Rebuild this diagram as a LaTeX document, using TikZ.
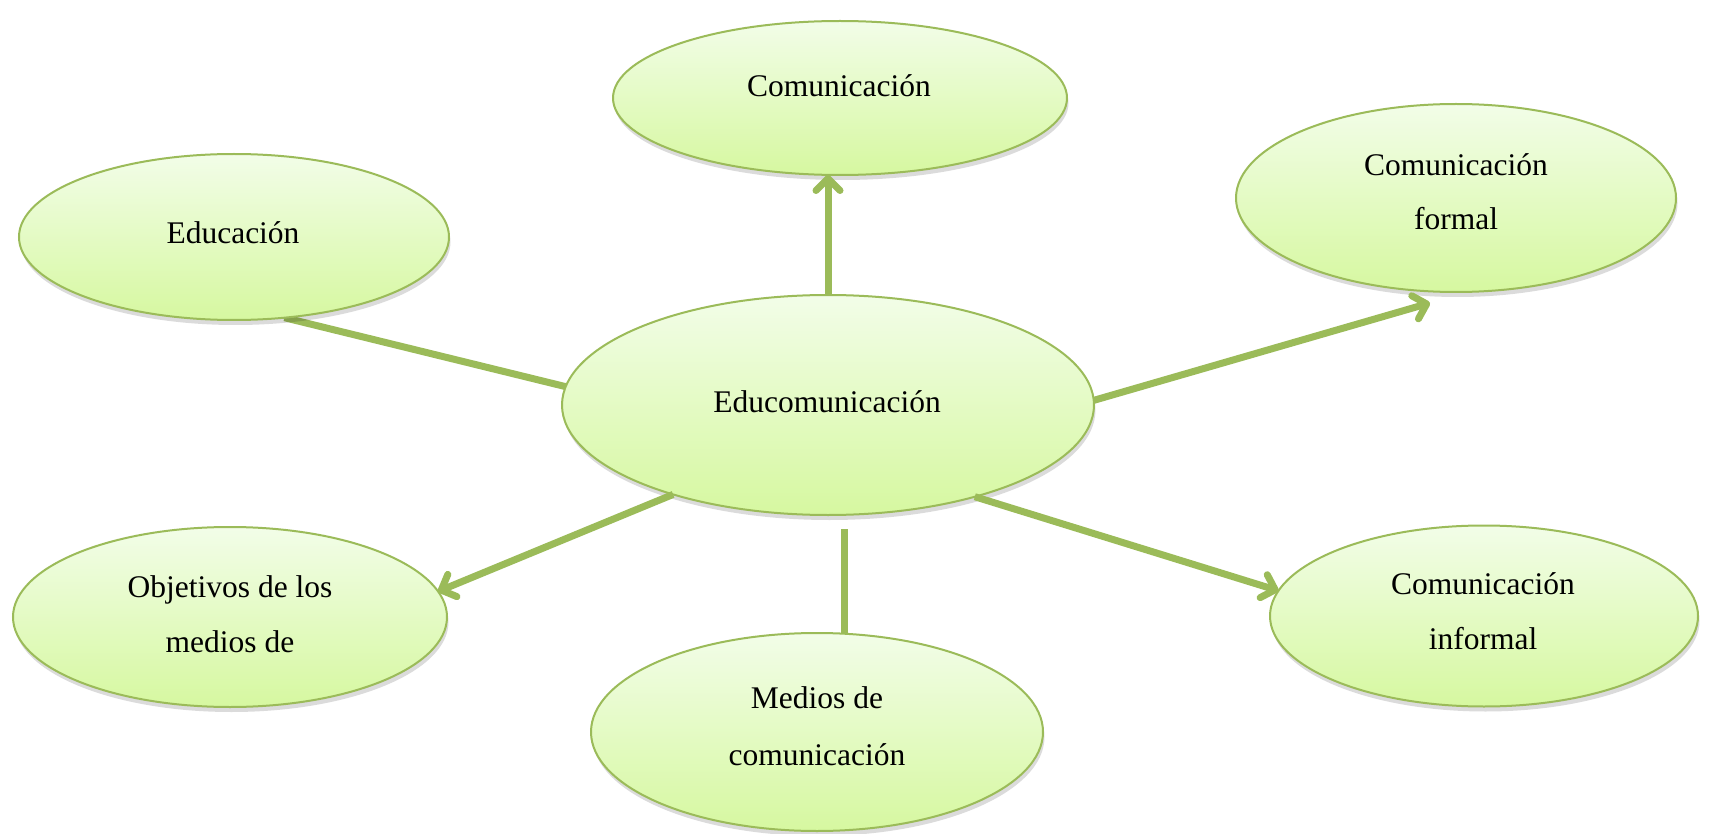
\documentclass[tikz,border=0pt]{standalone}
\usepackage{fontspec}
\setmainfont{Liberation Serif}
\usetikzlibrary{arrows.meta,shapes.geometric,shadows,backgrounds}
\definecolor{olive}{HTML}{9BBB59}
\definecolor{topfill}{RGB}{242,253,232}
\definecolor{botfill}{RGB}{214,248,160}
\tikzset{
  bubble/.style={ellipse, draw=olive, line width=2pt, inner sep=0pt, outer sep=0pt,
    top color=topfill, bottom color=botfill,
    drop shadow={shadow xshift=1.5pt, shadow yshift=-5pt, fill=black, opacity=0.14}},
  lbl/.style={anchor=base, inner sep=0pt, font=\fontsize{31.5}{38}\selectfont},
  conn/.style={draw=olive, line width=7pt},
  arr/.style={conn, -{Straight Barb[length=12pt, width=24pt, round]}}
}
\begin{document}
\begin{tikzpicture}[x=1pt, y=-1pt]
\useasboundingbox (0,0) rectangle (1711,834);
% bubbles
\node[bubble, minimum width=454pt, minimum height=154pt] (com) at (840,98) {};
\node[bubble, minimum width=430pt, minimum height=166pt] (educ) at (234,237) {};
\node[bubble, minimum width=440pt, minimum height=188pt] (formal) at (1456,198) {};
\node[bubble, minimum width=532pt, minimum height=220pt] (edu) at (828,405) {};
\node[bubble, minimum width=434pt, minimum height=180pt] (obj) at (230,617) {};
\node[bubble, minimum width=452pt, minimum height=198pt] (med) at (817,732) {};
\node[bubble, minimum width=428pt, minimum height=181pt] (inf) at (1484,616) {};
% texts
\node[lbl] (tcom) at (839,97) {Comunicación};
\node[lbl] (teduc) at (233,244) {Educación};
\node[lbl] (tformal1) at (1456,176) {Comunicación};
\node[lbl] (tformal2) at (1456,230) {formal};
\node[lbl] (tedu) at (827,412) {Educomunicación};
\node[lbl] (tobj1) at (230,597) {Objetivos de los};
\node[lbl] (tobj2) at (230,652) {medios de};
\node[lbl] (tmed1) at (817,708) {Medios de};
\node[lbl] (tmed2) at (817,765) {comunicación};
\node[lbl] (tinf1) at (1483,594) {Comunicación};
\node[lbl] (tinf2) at (1483,649) {informal};
% coordinates for free ends
\coordinate (formaltip) at (1430,303);
\coordinate (medtop) at (844,529);
% plain lines under the bubbles
\begin{scope}[on background layer]
  \fill[white] (0,0) rectangle (1711,834);
  \draw[conn] (edu.176) -- (educ.302);
  \draw[conn] (medtop) -- (medtop |- med.north);
\end{scope}
% arrows
\draw[arr] (edu.north) -- (edu.north |- com.south);
\draw[arr] (edu.1) -- (formaltip);
\draw[arr] (edu.210) -- (obj.7);
\draw[arr] (edu.328) -- (inf.173);
\end{tikzpicture}
\end{document}
